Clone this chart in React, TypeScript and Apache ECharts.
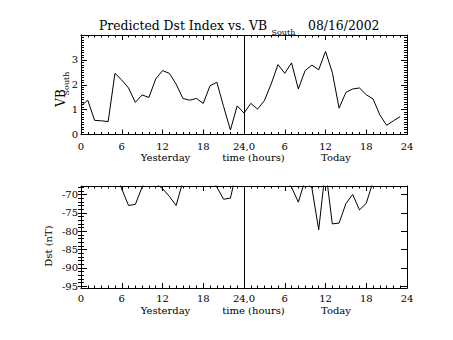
import React, { useEffect, useRef } from 'react';
import * as echarts from 'echarts';

const HOURS = [0, 1, 2, 3, 4, 5, 6, 7, 8, 9, 10, 11, 12, 13, 14, 15, 16, 17, 18, 19, 20, 21, 22, 23,
  24, 25, 26, 27, 28, 29, 30, 31, 32, 33, 34, 35, 36, 37, 38, 39, 40, 41, 42, 43, 44, 45, 46, 47];

const VB_SOUTH = [1.15, 1.38, 0.57, 0.55, 0.52, 2.46, 2.19, 1.87, 1.29, 1.59, 1.49, 2.23,
  2.57, 2.46, 2.03, 1.45, 1.38, 1.45, 1.25, 1.96, 2.10, 1.12, 0.18, 1.15,
  0.86, 1.25, 1.02, 1.36, 2.03, 2.81, 2.46, 2.88, 1.83, 2.57, 2.79, 2.60,
  3.34, 2.50, 1.06, 1.69, 1.83, 1.87, 1.60, 1.43, 0.79, 0.37, 0.55, 0.72];

const DST = [-63, -62, -62, -63, -62, -63, -68.5, -73.0, -72.7, -68.0, -64, -67.0,
  -68.4, -70.5, -73.0, -66.5, -64, -63, -64, -65, -68.0, -71.3, -71.0, -63,
  -62, -61, -60, -61, -62, -63, -66, -68.0, -72.1, -66, -68.3, -79.6,
  -63, -78.0, -77.8, -72.5, -70.0, -74.2, -72.4, -66.5, -64, -63, -62, -62];

const X_TICKS = [0, 6, 12, 18, 24, 30, 36, 42, 48];
const X_TICK_LABELS = ['0', '6', '12', '18', '24,0', '6', '12', '18', '24'];
const DAY_MARK = 24;
const VB_RANGE = [0, 4];
const DST_RANGE = [-95.45, -67.7];
const DST_TICKS = [-95, -90, -85, -80, -75, -70];
const DST_MINOR = [-95, -94, -93, -92, -91, -90, -89, -88, -87, -86, -85, -84, -83, -82, -81, -80,
  -79, -78, -77, -76, -75, -74, -73, -72, -71, -70, -69, -68];

const FONT = 'DejaVu Serif';
const INK = '#000';

function xAxes(gridIndex: number, labelMargin: number) {
  const base = {
    type: 'value',
    gridIndex,
    min: 0,
    max: 48,
    interval: 6,
    axisLine: { show: true, onZero: false, lineStyle: { color: INK, width: 1 } },
    axisTick: { show: true, inside: true, length: 5, lineStyle: { color: INK } },
    minorTick: { show: true, splitNumber: 6, length: 2.5, lineStyle: { color: INK } },
    splitLine: { show: false },
    minorSplitLine: { show: false },
  };
  return [
    {
      ...base,
      position: 'bottom',
      axisLabel: {
        show: true,
        margin: labelMargin,
        color: INK,
        fontFamily: FONT,
        fontSize: 10,
        formatter: (v: number) => {
          const i = X_TICKS.indexOf(v);
          return i >= 0 ? X_TICK_LABELS[i] : '';
        },
      },
    },
    { ...base, position: 'top', axisLabel: { show: false } },
  ];
}

export default function App() {
  const ref = useRef<HTMLDivElement>(null);
  useEffect(() => {
    if (!ref.current) return;
    const chart = echarts.init(ref.current, undefined, { renderer: 'svg' });
    const yLabel = { color: INK, fontFamily: FONT, fontSize: 10, margin: 3 };
    const vbBase = {
      type: 'value',
      gridIndex: 0,
      min: VB_RANGE[0],
      max: VB_RANGE[1],
      interval: 1,
      axisLine: { show: true, onZero: false, lineStyle: { color: INK, width: 1 } },
      axisTick: { show: true, inside: true, length: 6, lineStyle: { color: INK } },
      minorTick: { show: true, splitNumber: 10, length: 3, lineStyle: { color: INK } },
      splitLine: { show: false },
      minorSplitLine: { show: false },
    };
    const dstBase = {
      type: 'value',
      gridIndex: 1,
      min: DST_RANGE[0],
      max: DST_RANGE[1],
      splitLine: { show: false },
    };
    const markLine = {
      silent: true,
      symbol: 'none',
      label: { show: false },
      lineStyle: { color: INK, width: 1, type: 'solid' },
      data: [{ xAxis: DAY_MARK }],
    };
    const rowText = (text: string, x: number, y: number) => ({
      type: 'text',
      x,
      y,
      style: { text, fill: INK, font: `10px "${FONT}"`, textAlign: 'center', textVerticalAlign: 'middle' },
    });
    chart.setOption({
      animation: false,
      backgroundColor: '#fff',
      grid: [
        { left: 81, top: 35, width: 326, height: 99.5 },
        { left: 81, top: 186, width: 326, height: 102 },
      ],
      xAxis: [...xAxes(0, 7), ...xAxes(1, 5)],
      yAxis: [
        { ...vbBase, position: 'left', axisLabel: { ...yLabel, showMaxLabel: false } },
        { ...vbBase, position: 'right', axisLabel: { show: false } },
        {
          ...dstBase,
          position: 'left',
          axisLine: { show: true, onZero: false, lineStyle: { color: INK, width: 1 } },
          axisTick: { show: true, inside: true, length: 6, customValues: DST_TICKS, lineStyle: { color: INK } },
          axisLabel: { ...yLabel, customValues: DST_TICKS },
        },
        {
          ...dstBase,
          position: 'right',
          axisLine: { show: true, onZero: false, lineStyle: { color: INK, width: 1 } },
          axisTick: { show: true, inside: true, length: 6, customValues: DST_TICKS, lineStyle: { color: INK } },
          axisLabel: { show: false },
        },
        {
          ...dstBase,
          position: 'left',
          axisLine: { show: false },
          axisTick: { show: true, inside: true, length: 3, customValues: DST_MINOR, lineStyle: { color: INK } },
          axisLabel: { show: false },
        },
        {
          ...dstBase,
          position: 'right',
          axisLine: { show: false },
          axisTick: { show: true, inside: true, length: 3, customValues: DST_MINOR, lineStyle: { color: INK } },
          axisLabel: { show: false },
        },
      ],
      series: [
        {
          type: 'line',
          xAxisIndex: 0,
          yAxisIndex: 0,
          data: HOURS.map((h, i) => [h, VB_SOUTH[i]]),
          symbol: 'none',
          lineStyle: { color: INK, width: 1 },
          clip: true,
          markLine,
        },
        {
          type: 'line',
          xAxisIndex: 2,
          yAxisIndex: 2,
          data: HOURS.map((h, i) => [h, DST[i]]),
          symbol: 'none',
          lineStyle: { color: INK, width: 1 },
          clip: true,
          markLine,
        },
      ],
      graphic: [
        {
          type: 'text', x: 99, y: 25,
          style: { text: 'Predicted Dst Index vs. VB', fill: INK, font: `12.4px "${FONT}"`, textAlign: 'left', textVerticalAlign: 'middle' },
        },
        {
          type: 'text', x: 271.5, y: 32.5,
          style: { text: 'South', fill: INK, font: `8px "${FONT}"`, textAlign: 'left', textVerticalAlign: 'middle' },
        },
        {
          type: 'text', x: 308, y: 25,
          style: { text: '08/16/2002', fill: INK, font: `12.4px "${FONT}"`, textAlign: 'left', textVerticalAlign: 'middle' },
        },
        {
          type: 'text', x: 61, y: 98, rotation: Math.PI / 2,
          style: { text: 'VB', fill: INK, font: `12px "${FONT}"`, textAlign: 'center', textVerticalAlign: 'middle' },
        },
        {
          type: 'text', x: 66.5, y: 83.5, rotation: Math.PI / 2,
          style: { text: 'South', fill: INK, font: `8px "${FONT}"`, textAlign: 'center', textVerticalAlign: 'middle' },
        },
        {
          type: 'text', x: 48.5, y: 246, rotation: Math.PI / 2,
          style: { text: 'Dst (nT)', fill: INK, font: `10px "${FONT}"`, textAlign: 'center', textVerticalAlign: 'middle' },
        },
        rowText('Yesterday', 165.5, 157.5),
        rowText('time (hours)', 253.5, 157.5),
        rowText('Today', 336, 157.5),
        rowText('Yesterday', 165.5, 310),
        rowText('time (hours)', 253.5, 310),
        rowText('Today', 336, 310),
      ],
    });
    return () => chart.dispose();
  }, []);
  return <div ref={ref} style={{ position: 'fixed', left: 0, top: 0, width: 453, height: 340 }} />;
}
